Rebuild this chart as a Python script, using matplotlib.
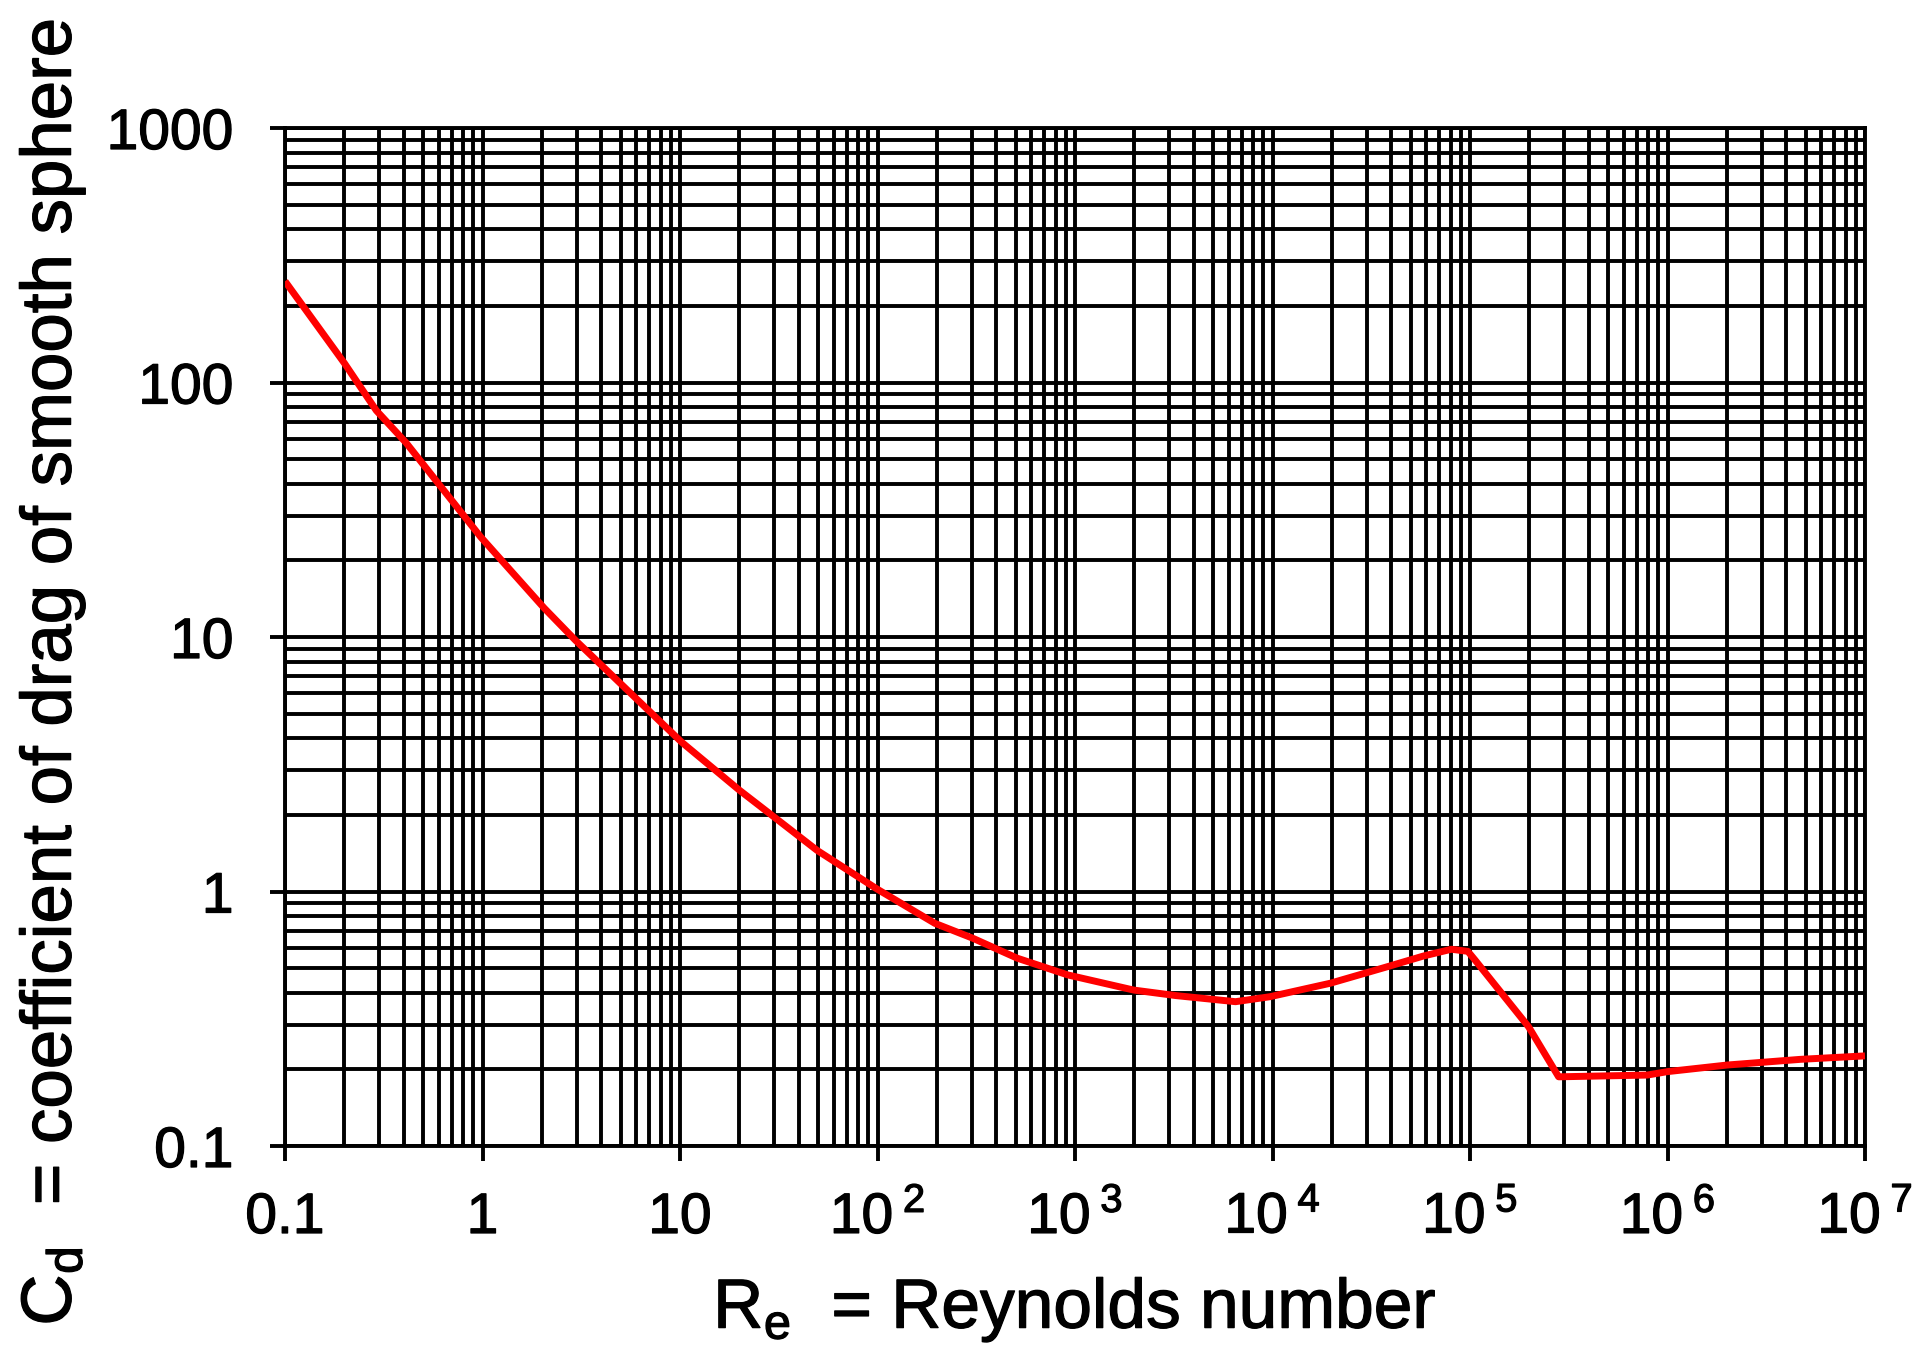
import matplotlib
matplotlib.use("Agg")
import matplotlib.pyplot as plt
import matplotlib.transforms as mtransforms
import matplotlib.patheffects as pe
from matplotlib.ticker import LogLocator, NullFormatter

# ---- data ----
reynolds = [0.1, 0.2, 0.29, 0.41, 0.98, 2.05, 2.97, 10.2, 20, 30, 49.5, 100,
            195, 304, 510, 920, 1980, 3240, 6500, 9700, 19600, 37700, 58200,
            80500, 97500, 106000, 198000, 281000, 790000, 1.0e6, 2.0e6,
            4.7e6, 1.0e7]
drag_coef = [250, 119, 77.6, 58, 24.7, 13.0, 9.67, 3.86, 2.5, 1.96, 1.45, 1.02,
             0.75, 0.655, 0.547, 0.47, 0.41, 0.39, 0.369, 0.386, 0.436, 0.505,
             0.558, 0.593, 0.582, 0.538, 0.294, 0.187, 0.19, 0.196, 0.208,
             0.219, 0.226]

x_tick_values = [0.1, 1, 10, 1e2, 1e3, 1e4, 1e5, 1e6, 1e7]
x_tick_labels = ["0.1", "1", "10",
                 r"$\mathregular{10^{\;2}}$", r"$\mathregular{10^{\;3}}$",
                 r"$\mathregular{10^{\;4}}$", r"$\mathregular{10^{\;5}}$",
                 r"$\mathregular{10^{\;6}}$", r"$\mathregular{10^{\;7}}$"]
y_tick_values = [0.1, 1, 10, 100, 1000]
y_tick_labels = ["0.1", "1", "10", "100", "1000"]

x_label = r"R$_\mathregular{e}$  = Reynolds number"
y_label = r"C$_\mathregular{d}$  = coefficient of drag of smooth sphere"

# ---- styling ----
plt.rcParams["font.family"] = ["Liberation Sans", "DejaVu Sans"]
plt.rcParams["mathtext.fontset"] = "custom"
plt.rcParams["mathtext.rm"] = "Liberation Sans"
plt.rcParams["mathtext.it"] = "Liberation Sans"
plt.rcParams["mathtext.bf"] = "Liberation Sans:bold"

heavy = [pe.withStroke(linewidth=0.9, foreground="black")]

W, H = 1928, 1346
fig = plt.figure(figsize=(W / 100, H / 100), dpi=100)
left, right, top, bottom = 285, 1865, 128, 1146
ax = fig.add_axes([left / W, 1 - bottom / H, (right - left) / W, (bottom - top) / H])

ax.set_xscale("log")
ax.set_yscale("log")
ax.set_xlim(0.1, 1e7)
ax.set_ylim(0.1, 1000)

lw = 2.8
ax.xaxis.set_minor_locator(LogLocator(base=10, subs=range(2, 10), numticks=100))
ax.yaxis.set_minor_locator(LogLocator(base=10, subs=range(2, 10), numticks=100))
ax.xaxis.set_minor_formatter(NullFormatter())
ax.yaxis.set_minor_formatter(NullFormatter())
ax.grid(which="both", color="black", linewidth=lw)
ax.set_axisbelow(True)

ax.set_xticks(x_tick_values)
ax.set_xticklabels([""] * len(x_tick_values))
ax.set_yticks(y_tick_values)
ax.set_yticklabels(y_tick_labels)

ax.tick_params(which="major", direction="out", length=11, width=lw,
               color="black", labelsize=41, pad=26)
ax.tick_params(which="minor", length=0)
for lbl in ax.get_yticklabels():
    lbl.set_path_effects(heavy)
for sp in ax.spines.values():
    sp.set_linewidth(lw)
    sp.set_color("black")

# x tick labels placed on a common baseline
trans = mtransforms.blended_transform_factory(ax.transData, ax.transAxes)
base_y = (bottom - 1233) / (bottom - top)
for xv, lab in zip(x_tick_values, x_tick_labels):
    ax.text(xv, base_y, lab, transform=trans, ha="center", va="baseline",
            fontsize=41, clip_on=False, path_effects=heavy)

ax.plot(reynolds, drag_coef, color="#ff0000", linewidth=5.0,
        solid_joinstyle="round", solid_capstyle="butt", zorder=5)

fig.text((left + right) / 2 / W, 1 - 1328 / H, x_label, ha="center",
         va="baseline", fontsize=50, path_effects=heavy)
fig.text(18 / W, 1 - 672 / H, y_label, ha="left", va="center",
         rotation=90, fontsize=51, path_effects=heavy)

fig.savefig("out.png", dpi=100)
